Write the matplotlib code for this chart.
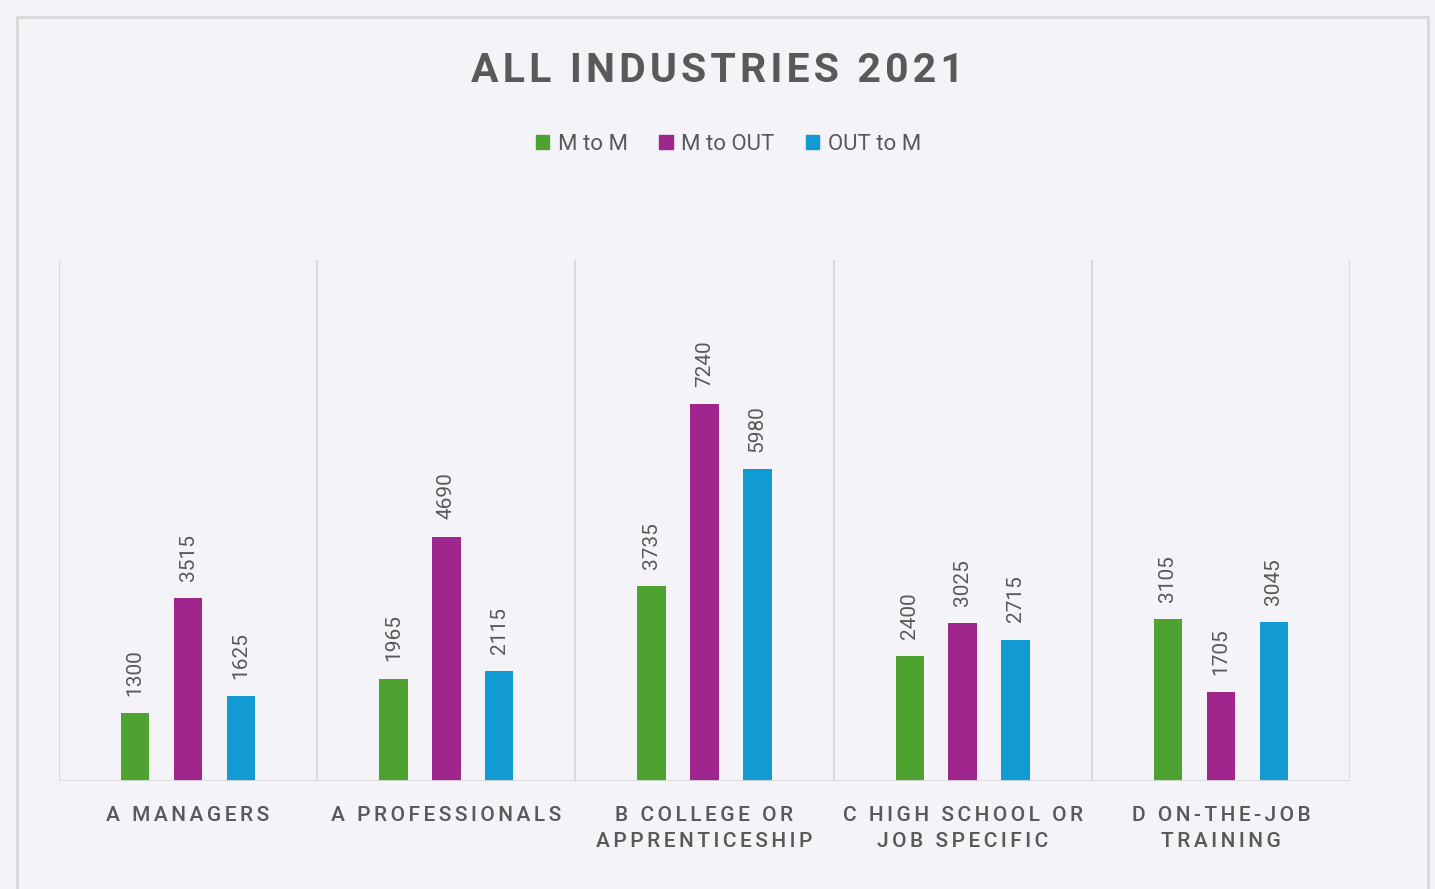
import numpy as np
import matplotlib.pyplot as plt
from matplotlib.patches import Rectangle, Patch

# Data
categories = ["A MANAGERS", "A PROFESSIONALS", "B COLLEGE OR\nAPPRENTICESHIP",
              "C HIGH SCHOOL OR\nJOB SPECIFIC", "D ON-THE-JOB\nTRAINING"]
series_names = ["M to M", "M to OUT", "OUT to M"]
m_to_m = [1300, 1965, 3735, 2400, 3105]
m_to_out = [3515, 4690, 7240, 3025, 1705]
out_to_m = [1625, 2115, 5980, 2715, 3045]
colors = ["#4ea22f", "#9e268d", "#119bd2"]

BG = "#f4f3f8"
GRID = "#d9d9d9"
TXT = "#595959"
FONT = ["Roboto", "DejaVu Sans"]


def spaced(s, sp="\u200a"):
    # fake letter spacing with hair spaces
    return "\n".join(sp.join(line) for line in s.split("\n"))


fig = plt.figure(figsize=(14.35, 8.89), dpi=100, facecolor=BG)
fig.patches.append(Rectangle((17 / 1435, -0.05), (1428 - 17) / 1435, 1.05 - 17 / 889,
                             transform=fig.transFigure, fill=False,
                             edgecolor=GRID, linewidth=2))

ax = fig.add_axes([59 / 1435, 1 - 781 / 889, (1350 - 59) / 1435, (781 - 260) / 889])
ax.set_facecolor(BG)

x = np.arange(len(categories))
width = 0.11
offsets = [-0.205, 0, 0.205]
for vals, off, c in zip([m_to_m, m_to_out, out_to_m], offsets, colors):
    bars = ax.bar(x + off, vals, width, color=c, zorder=3)
    for b, v in zip(bars, vals):
        ax.text(b.get_x() + b.get_width() / 2, v + 330, str(v), rotation=90,
                ha="center", va="bottom", fontsize=15, color=TXT, family=FONT)

ax.set_xlim(-0.5, len(categories) - 0.5)
ax.set_ylim(0, 10000)

# category separators and baseline
for xv in np.arange(-0.5, len(categories), 1.0):
    ax.axvline(xv, color=GRID, linewidth=1.5, zorder=1)
ax.axhline(0, color=GRID, linewidth=2, zorder=4)

for s in ax.spines.values():
    s.set_visible(False)
ax.set_yticks([])
ax.set_xticks(x)
ax.set_xticklabels([spaced(c, "\u2006") for c in categories], fontsize=15, color=TXT,
                   family=FONT, fontweight="medium", linespacing=1.45)
ax.tick_params(axis="x", length=0, pad=18)

fig.text(0.5, 1 - 71 / 889, spaced("ALL INDUSTRIES 2021"), ha="center", va="center",
         fontsize=29.5, fontweight="bold", color=TXT, family=FONT)

handles = [Patch(color=c) for c in colors]
fig.legend(handles, series_names, loc="center", bbox_to_anchor=(0.5077, 1 - 144 / 889),
           ncol=3, frameon=False, handlelength=0.6, handleheight=0.6,
           handletextpad=0.4, columnspacing=1.4,
           prop={"family": FONT, "size": 16}, labelcolor=TXT)

fig.savefig("out.png", dpi=100, facecolor=BG)
